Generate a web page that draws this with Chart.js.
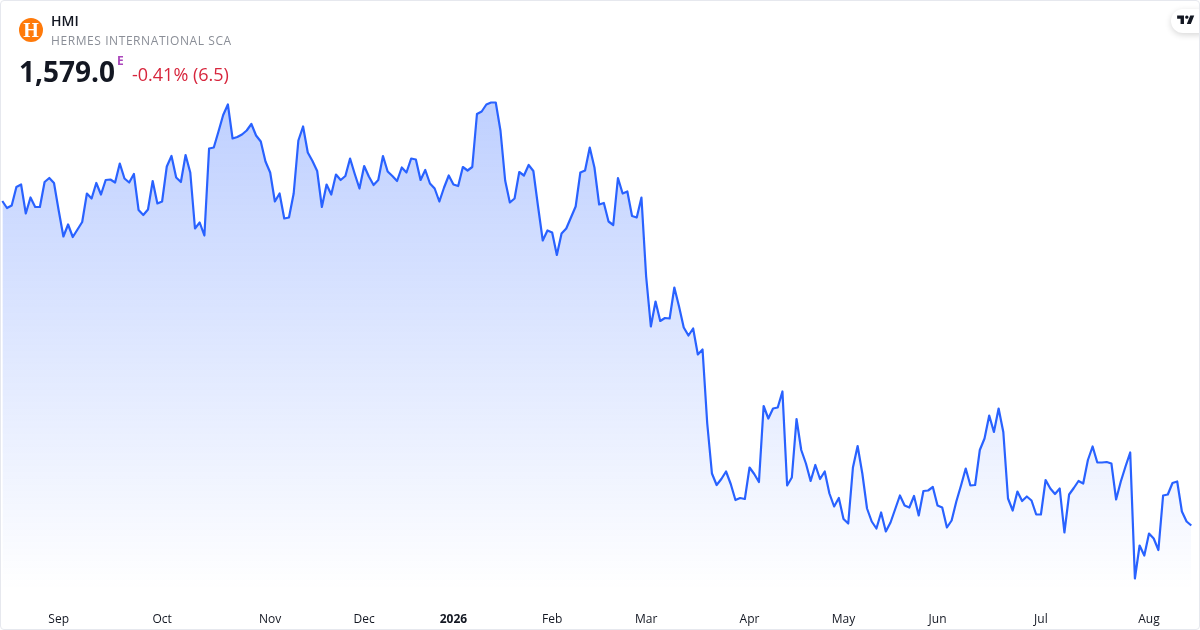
<!DOCTYPE html>
<html>
<head>
<meta charset="utf-8">
<title>HMI</title>
<script src="https://cdn.jsdelivr.net/npm/chart.js@4.4.3/dist/chart.umd.js"></script>
<style>
  html, body { margin: 0; padding: 0; background: #fff; }
  body { width: 1200px; height: 630px; overflow: hidden; position: relative; font-family: "Open Sans", sans-serif; }
  #frame { position: absolute; inset: 0; border: 1px solid #e6e8ee; border-radius: 4px; box-sizing: border-box; pointer-events: none; z-index: 3; }
  canvas { position: absolute; left: 0; top: 0; }
  .txt { position: absolute; white-space: nowrap; z-index: 2; }
  #logo { position: absolute; left: 19px; top: 18px; width: 24px; height: 24px; border-radius: 50%; background: #ff7a0a; color: #fff; font: bold 20px/24px "Liberation Serif", serif; text-align: center; z-index: 2; }
  #symbol { left: 51px; top: 12px; font-size: 14px; line-height: 18px; font-weight: 600; color: #131722; }
  #name { left: 51px; top: 32px; font-size: 12px; line-height: 17px; color: #8a8e97; letter-spacing: 0.58px; }
  #price { left: 19px; top: 51px; font-size: 28px; line-height: 40px; font-weight: 700; color: #131722; }
  #exch { left: 117px; top: 53px; font-size: 12px; line-height: 16px; font-weight: 700; color: #ab47bc; }
  #change { left: 132px; top: 62px; font-size: 18px; line-height: 25px; color: #d7263d; }
  #tv { position: absolute; left: 1171px; top: 9px; width: 40px; height: 24px; border-radius: 12px; background: #fff; box-shadow: 0 2px 6px rgba(0,0,0,.16); z-index: 2; }
  #tv svg { position: absolute; left: 5px; top: 3px; width: 20.5px; height: 16px; }
</style>
</head>
<body>
<canvas id="chart" width="1200" height="630"></canvas>
<div id="frame"></div>
<div id="logo">H</div>
<div class="txt" id="symbol">HMI</div>
<div class="txt" id="name">HERMES INTERNATIONAL SCA</div>
<div class="txt" id="price">1,579.0</div>
<div class="txt" id="exch">E</div>
<div class="txt" id="change">-0.41% (6.5)</div>
<div id="tv"><svg viewBox="0 0 36 28"><path fill="#131722" d="M14 6H2v6h6v9h6V6Zm12 15h-7l6-15h7l-6 15Zm-7-9a3 3 0 1 0 0-6 3 3 0 0 0 0 6Z"/></svg></div>
<script>
const closes = [
  2228, 2214, 2219, 2256, 2261, 2203, 2235, 2216, 2216, 2266, 2274, 2264, 2209, 2157, 2181, 2156,
  2171, 2186, 2243, 2233, 2264, 2241, 2270, 2271, 2265, 2303, 2273, 2265, 2282, 2210, 2200, 2211,
  2268, 2223, 2227, 2297, 2318, 2275, 2266, 2320, 2285, 2173, 2185, 2159, 2333, 2335, 2367, 2400,
  2421, 2353, 2356, 2361, 2369, 2382, 2359, 2347, 2307, 2285, 2227, 2243, 2193, 2195, 2243, 2349,
  2377, 2325, 2308, 2288, 2216, 2261, 2241, 2281, 2270, 2278, 2313, 2282, 2253, 2298, 2277, 2260,
  2270, 2318, 2287, 2278, 2268, 2295, 2285, 2313, 2311, 2270, 2290, 2263, 2253, 2227, 2255, 2279,
  2261, 2258, 2296, 2289, 2296, 2402, 2407, 2421, 2425, 2425, 2369, 2269, 2225, 2233, 2286, 2279,
  2300, 2288, 2217, 2149, 2169, 2165, 2120, 2163, 2173, 2195, 2217, 2285, 2289, 2335, 2295, 2221,
  2224, 2187, 2180, 2274, 2243, 2247, 2198, 2195, 2235, 2077, 1977, 2027, 1988, 1994, 1993, 2055,
  2017, 1975, 1959, 1973, 1921, 1931, 1783, 1683, 1660, 1672, 1687, 1662, 1630, 1634, 1632, 1695,
  1682, 1666, 1818, 1793, 1813, 1815, 1847, 1659, 1675, 1792, 1730, 1703, 1668, 1700, 1672, 1687,
  1643, 1617, 1634, 1592, 1583, 1695, 1738, 1683, 1613, 1587, 1573, 1605, 1567, 1585, 1612, 1639,
  1619, 1615, 1638, 1599, 1648, 1649, 1656, 1619, 1615, 1575, 1589, 1627, 1659, 1693, 1659, 1660,
  1730, 1753, 1799, 1766, 1813, 1766, 1633, 1609, 1647, 1628, 1637, 1629, 1601, 1601, 1670, 1653,
  1642, 1653, 1565, 1641, 1654, 1668, 1663, 1710, 1737, 1705, 1705, 1706, 1703, 1631, 1667, 1697,
  1725, 1473, 1539, 1519, 1563, 1553, 1530, 1639, 1641, 1664, 1667, 1607, 1587, 1579
];
const monthLabels = ['Sep', 'Oct', 'Nov', 'Dec', '2026', 'Feb', 'Mar', 'Apr', 'May', 'Jun', 'Jul', 'Aug'];
const monthStarts = [12, 34, 57, 77, 96, 117, 137, 159, 179, 199, 221, 244];

const labels = closes.map((_, i) => {
  const m = monthStarts.indexOf(i);
  return m >= 0 ? monthLabels[m] : '';
});

new Chart(document.getElementById('chart'), {
  type: 'line',
  data: {
    labels: labels,
    datasets: [{
      data: closes,
      borderColor: '#2962ff',
      borderWidth: 2.2,
      borderJoinStyle: 'round',
      pointRadius: 0,
      tension: 0,
      fill: true,
      backgroundColor(ctx) {
        const area = ctx.chart.chartArea;
        if (!area) return 'transparent';
        const g = ctx.chart.ctx.createLinearGradient(0, 100, 0, 590);
        g.addColorStop(0, 'rgba(41, 98, 255, 0.3)');
        g.addColorStop(1, 'rgba(41, 98, 255, 0)');
        return g;
      }
    }]
  },
  options: {
    responsive: false,
    animation: false,
    layout: { padding: { left: 2.3, right: 8.7, top: 90, bottom: 0 } },
    plugins: { legend: { display: false }, tooltip: { enabled: false } },
    scales: {
      x: {
        offset: false,
        grid: { display: false },
        border: { display: false },
        afterFit(scale) {
          // tick label overhang must not push the plot in
          scale.height = 30;
          scale.paddingLeft = 0;
          scale.paddingRight = 0;
        },
        ticks: {
          autoSkip: false,
          minRotation: 0,
          maxRotation: 0,
          padding: 4,
          color: '#131722',
          font(ctx) {
            const bold = ctx.tick && ctx.tick.label === '2026';
            return { family: '"Open Sans"', size: 12, weight: bold ? '700' : '400' };
          }
        }
      },
      y: { display: false, min: 1430, max: 2450 }
    }
  }
});
</script>
</body>
</html>
